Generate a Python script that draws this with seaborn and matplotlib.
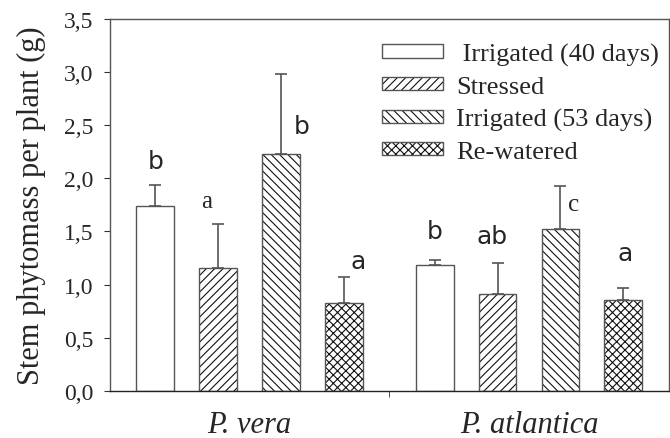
import numpy as np
import pandas as pd
import matplotlib
matplotlib.use("Agg")
import matplotlib.pyplot as plt
from matplotlib.ticker import FixedLocator, FuncFormatter
import matplotlib.colors as mcolors
import seaborn as sns

# data
species = ["P. vera", "P. atlantica"]
treatments = [" Irrigated (40 days)", "Stressed", "Irrigated (53 days)", "Re-watered"]
vera_mean = [1.74, 1.16, 2.23, 0.83]
vera_err = [0.20, 0.41, 0.75, 0.24]
atl_mean = [1.18, 0.91, 1.52, 0.85]
atl_err = [0.05, 0.29, 0.41, 0.12]

# significance letters, their heights and small sideways shifts
vera_letters = ["b", "a", "b", "a"]
atl_letters = ["b", "ab", "c", "a"]
vera_letter_y = [2.16, 1.79, 2.49, 1.22]
atl_letter_y = [1.50, 1.46, 1.76, 1.30]
vera_letter_dx = [0.0, -0.04, 0.075, 0.05]
atl_letter_dx = [0.0, -0.02, 0.046, 0.007]
vera_serif = [False, True, False, False]
atl_serif = [False, False, True, False]

hatches = ["", "////", "\\\\\\\\", "xxxx"]

df = pd.DataFrame({
    "species": np.repeat(species, 4),
    "treatment": treatments * 2,
    "value": vera_mean + atl_mean,
})

sns.set_style("ticks")
plt.rcParams["font.family"] = ["Liberation Serif", "DejaVu Serif"]
plt.rcParams["hatch.linewidth"] = 0.8

fig = plt.figure(figsize=(6.7, 4.39), dpi=100)
ax = fig.add_axes([0.164, 0.1077, 0.834, 0.8465])

sns.barplot(data=df, x="species", y="value", hue="treatment",
            order=species, hue_order=treatments,
            palette=["white"] * 4, edgecolor="#555555", linewidth=1.0,
            width=0.9, gap=0.4, errorbar=None, legend=False, ax=ax)

means = [vera_mean, atl_mean]
errs = [vera_err, atl_err]
letters = [vera_letters, atl_letters]
letter_y = [vera_letter_y, atl_letter_y]
letter_dx = [vera_letter_dx, atl_letter_dx]
serif = [vera_serif, atl_serif]

black = mcolors.to_rgba("#111111")
bar_groups = list(ax.containers)
for h, cont in enumerate(bar_groups):
    for s, bar in enumerate(cont.patches):
        bar.set_hatch(hatches[h])
        bar._hatch_color = black
        xc = bar.get_x() + bar.get_width() / 2
        ax.errorbar([xc], [means[s][h]], yerr=[[0], [errs[s][h]]], fmt="none",
                    ecolor="#555555", elinewidth=1.2, capsize=4.5, capthick=1.2,
                    zorder=1)
        if serif[s][h]:
            ax.text(xc + letter_dx[s][h], letter_y[s][h], letters[s][h],
                    ha="center", va="center", fontsize=18,
                    family="Liberation Serif")
        else:
            ax.text(xc + letter_dx[s][h], letter_y[s][h], letters[s][h],
                    ha="center", va="center", fontsize=18,
                    family="DejaVu Sans")

ax.set_xlim(-0.5, 1.5)
ax.set_ylim(0, 3.5)
ax.yaxis.set_major_locator(FixedLocator(np.arange(0, 3.51, 0.5)))
ax.yaxis.set_major_formatter(FuncFormatter(lambda v, p: f"{v:.1f}".replace(".", ",")))
ax.xaxis.set_minor_locator(FixedLocator([0.5]))
ax.tick_params(axis="x", which="major", length=0, pad=14, labelsize=22)
ax.tick_params(axis="x", which="minor", length=4, direction="out", color="#333333")
ax.tick_params(axis="y", length=4, direction="out", pad=8, labelsize=17, color="#333333")
for lab in ax.get_xticklabels():
    lab.set_fontstyle("italic")

ax.set_xlabel("")
ax.set_ylabel("Stem phytomass per plant (g)", fontsize=22, labelpad=13)

for sp in ax.spines.values():
    sp.set_visible(True)
    sp.set_color("#555555")
    sp.set_linewidth(1.0)
ax.spines["bottom"].set_color("#222222")

leg = ax.legend(handles=bar_groups, labels=treatments, loc="upper left",
                bbox_to_anchor=(0.487, 0.936), frameon=False, fontsize=19,
                handlelength=2.3, handleheight=0.4, labelspacing=0.38,
                handletextpad=0.5, borderpad=0, borderaxespad=0)

fig.savefig("out.png", dpi=100)
